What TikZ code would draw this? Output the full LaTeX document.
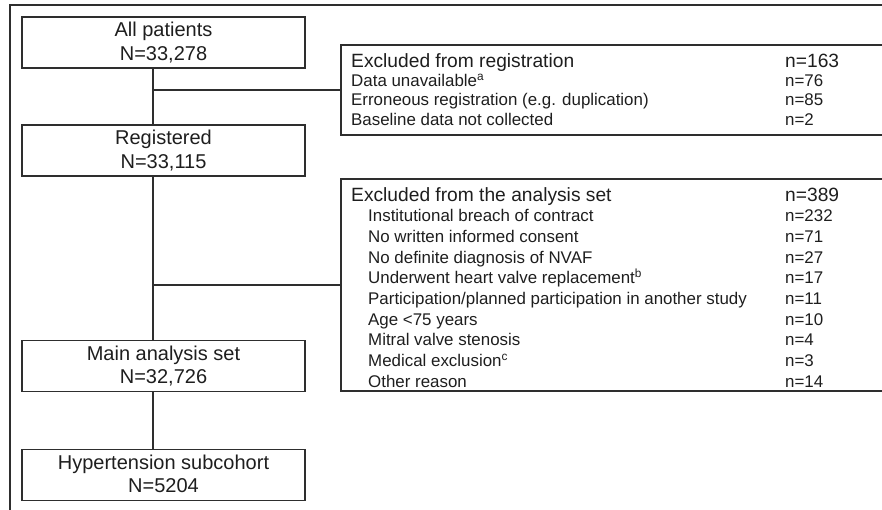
\documentclass[tikz,border=0pt]{standalone}
\usepackage{fontspec}
\setmainfont{Liberation Sans}
\definecolor{ln}{HTML}{2E2E2E}
\definecolor{tx}{HTML}{1E1E1E}
\begin{document}
\begin{tikzpicture}[x=1pt,y=-1pt,
 flowbox/.style={draw=ln, line width=1.7pt, minimum width=283pt, minimum height=51pt, inner sep=0pt},
 boxtxt/.style={anchor=base, inner sep=0pt, text=tx, font=\fontsize{20}{24}\selectfont},
 conn/.style={draw=ln, line width=1.7pt},
 frame/.style={draw=ln, line width=2.6pt},
 exbox/.style={draw=none, inner sep=0pt, minimum width=545pt},
 hdr/.style={anchor=base west, inner sep=0pt, text=tx, font=\fontsize{19.2}{22}\selectfont},
 itm/.style={anchor=base west, inner sep=0pt, text=tx, font=\fontsize{16.9}{20}\selectfont},
]
\useasboundingbox (0,0) rectangle (882,509);
% outer frame
\coordinate (fr1) at (886,5);
\coordinate (fr2) at (10,5);
\coordinate (fr3) at (10,512);
\draw[frame] (fr1) -- (fr2) -- (fr3);
% main column
\node[flowbox] (all) at (163.5,42.5) {};
\node[boxtxt] (all1) at ([yshift=-20.5pt]all.north) {All patients};
\node[boxtxt] (all2) at ([yshift=-44.5pt]all.north) {N=33,278};
\node[flowbox] (reg) at (163.5,150.5) {};
\node[boxtxt] (reg1) at ([yshift=-20.7pt]reg.north) {Registered};
\node[boxtxt] (reg2) at ([yshift=-44.7pt]reg.north) {N=33,115};
\node[flowbox] (main) at (163.5,366) {};
\node[boxtxt] (main1) at ([yshift=-20.7pt]main.north) {Main analysis set};
\node[boxtxt] (main2) at ([yshift=-44.2pt]main.north) {N=32,726};
\node[flowbox] (hyp) at (163.5,475) {};
\node[boxtxt] (hyp1) at ([yshift=-20.7pt]hyp.north) {Hypertension subcohort};
\node[boxtxt] (hyp2) at ([yshift=-43.8pt]hyp.north) {N=5204};
\coordinate (sp) at (153,0);
\draw[conn] (all.south -| sp) -- (reg.north -| sp);
\draw[conn] (reg.south -| sp) -- (main.north -| sp);
\draw[conn] (main.south -| sp) -- (hyp.north -| sp);
% exclusion boxes
\node[exbox, minimum height=90pt] (ex1) at (613.5,90) {};
\node[exbox, minimum height=212pt] (ex2) at (613.5,285) {};
\draw[conn] ([xshift=4pt]ex1.north east) -- (ex1.north west) -- (ex1.south west) -- ([xshift=4pt]ex1.south east);
\draw[conn] ([xshift=4pt]ex2.north east) -- (ex2.north west) -- (ex2.south west) -- ([xshift=4pt]ex2.south east);
\draw[conn] (ex1.west -| sp) -- (ex1.west);
\draw[conn] (ex2.west -| sp) -- (ex2.west);
% texts box 1
\node[hdr] (h1) at (351,67.3) {Excluded from registration};
\node[hdr] (h1n) at (785,67.3) {n=163};
\node[itm] (a1) at (351,86.5) {Data unavailable\textsuperscript{a}};
\node[itm] (a1n) at (785,86.5) {n=76};
\node[itm] (a2) at (351,105.8) {Erroneous registration (e.g. duplication)};
\node[itm] (a2n) at (785,105.8) {n=85};
\node[itm] (a3) at (351,125) {Baseline data not collected};
\node[itm] (a3n) at (785,125) {n=2};
% texts box 2
\node[hdr] (h2) at (351,201.5) {Excluded from the analysis set};
\node[hdr] (h2n) at (785,201.5) {n=389};
\node[itm] (b1) at (368,221.7) {Institutional breach of contract};
\node[itm] (b1n) at (785,221.7) {n=232};
\node[itm] (b2) at (368,242.4) {No written informed consent};
\node[itm] (b2n) at (785,242.4) {n=71};
\node[itm] (b3) at (368,263.1) {No definite diagnosis of NVAF};
\node[itm] (b3n) at (785,263.1) {n=27};
\node[itm] (b4) at (368,283.8) {Underwent heart valve replacement\textsuperscript{b}};
\node[itm] (b4n) at (785,283.8) {n=17};
\node[itm] (b5) at (368,304.5) {Participation/planned participation in another study};
\node[itm] (b5n) at (785,304.5) {n=11};
\node[itm] (b6) at (368,325.2) {Age <75 years};
\node[itm] (b6n) at (785,325.2) {n=10};
\node[itm] (b7) at (368,345.9) {Mitral valve stenosis};
\node[itm] (b7n) at (785,345.9) {n=4};
\node[itm] (b8) at (368,366.6) {Medical exclusion\textsuperscript{c}};
\node[itm] (b8n) at (785,366.6) {n=3};
\node[itm] (b9) at (368,387.3) {Other reason};
\node[itm] (b9n) at (785,387.3) {n=14};
\end{tikzpicture}
\end{document}
